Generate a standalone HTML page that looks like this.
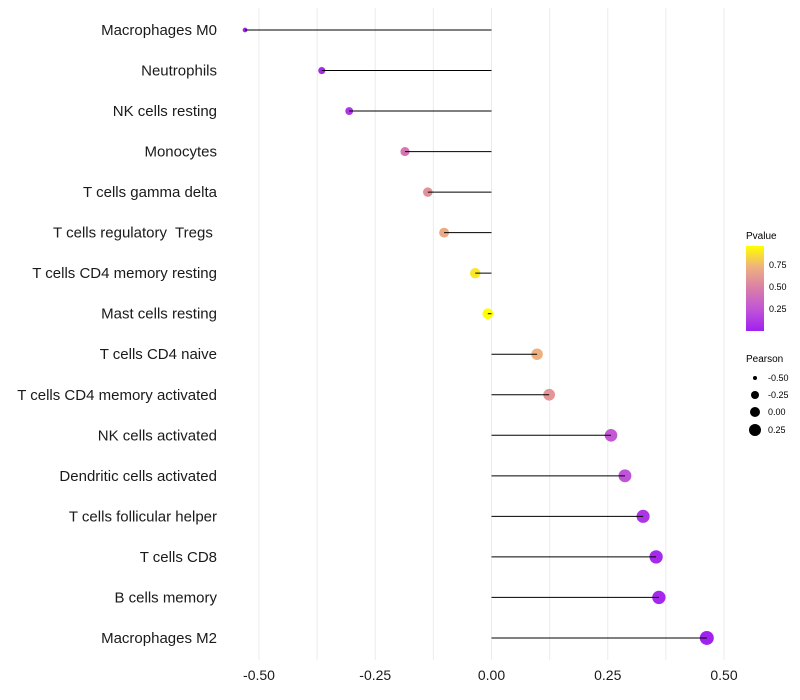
<!DOCTYPE html>
<html><head><meta charset="utf-8"><style>
body{margin:0;background:#fff;}
svg{display:block;font-family:"Liberation Sans",sans-serif;}
</style></head><body>
<svg id="chart" width="800" height="700">
<defs><linearGradient id="pg" x1="0" y1="1" x2="0" y2="0">
<stop offset="0" stop-color="#a020f0"/><stop offset="0.25" stop-color="#c054d8"/><stop offset="0.5" stop-color="#d87ea8"/><stop offset="0.75" stop-color="#eeb080"/><stop offset="1" stop-color="#ffff00"/>
</linearGradient></defs>
<g id="grid"></g>
<g id="marks"></g>
<g id="labels"></g>
<g font-size="10">
<text x="746" y="239">Pvalue</text>
<rect x="746" y="246" width="18" height="85" fill="url(#pg)"/>
<text x="769" y="268" font-size="9">0.75</text>
<text x="769" y="290" font-size="9">0.50</text>
<text x="769" y="312" font-size="9">0.25</text>
</g>
<g font-size="9">
<text x="746" y="362" font-size="10">Pearson</text>
<circle cx="755" cy="378" r="2" fill="#000"/><text x="768" y="381">-0.50</text>
<circle cx="755" cy="395" r="4" fill="#000"/><text x="768" y="398">-0.25</text>
<circle cx="755" cy="412" r="5" fill="#000"/><text x="768" y="415">0.00</text>
<circle cx="755" cy="430" r="6" fill="#000"/><text x="768" y="433">0.25</text>
</g>
</svg>
<script>
const categories=["Macrophages M0","Neutrophils","NK cells resting","Monocytes","T cells gamma delta","T cells regulatory  Tregs ","T cells CD4 memory resting","Mast cells resting","T cells CD4 naive","T cells CD4 memory activated","NK cells activated","Dendritic cells activated","T cells follicular helper","T cells CD8","B cells memory","Macrophages M2"];
const pearson=[-0.530,-0.365,-0.306,-0.186,-0.137,-0.102,-0.035,-0.008,0.098,0.124,0.257,0.287,0.326,0.354,0.360,0.463];
const pvalues=[0.0,0.05,0.1,0.45,0.6,0.72,0.9,0.97,0.75,0.62,0.28,0.25,0.1,0.05,0.04,0.01];
const xTicks=[-0.5,-0.25,0,0.25,0.5];
const xTickLabels=["-0.50","-0.25","0.00","0.25","0.50"];
const NS="http://www.w3.org/2000/svg";
const x=v=>491.5+v*465;
const y=i=>30+i*40.53;
const rad=v=>Math.sqrt(Math.max(2.5,28.8+43.7*v));
const stops=[[0,[160,32,240]],[0.25,[192,84,216]],[0.5,[216,126,168]],[0.75,[238,176,128]],[0.966,[255,255,0]]];
function col(p){p=Math.min(0.966,Math.max(0,p));for(let k=1;k<stops.length;k++){if(p<=stops[k][0]){const a=stops[k-1],b=stops[k],t=(p-a[0])/(b[0]-a[0]);return "rgb("+a[1].map((c,j)=>Math.round(c+(b[1][j]-c)*t)).join(",")+")";}}return "rgb(255,255,0)";}
function mk(t,a,parent){const e=document.createElementNS(NS,t);for(const k in a)e.setAttribute(k,a[k]);parent.appendChild(e);return e;}
const grid=document.getElementById('grid'),marks=document.getElementById('marks'),labels=document.getElementById('labels');
for(let v=-0.5;v<=0.5001;v+=0.125){const g=mk('line',{x1:x(v),x2:x(v),y1:8,y2:660,stroke:'#ebebeb','stroke-width':1},grid);

}
xTicks.forEach((v,i)=>{const t=mk('text',{x:x(v),y:680,'text-anchor':'middle','font-size':14,fill:'#1a1a1a'},labels);t.textContent=xTickLabels[i];

});
categories.forEach((c,i)=>{const t=mk('text',{x:217,y:y(i)+5,'text-anchor':'end','font-size':15,fill:'#1a1a1a'},labels);t.style.whiteSpace='pre';t.textContent=c;


const p=mk('circle',{cx:x(pearson[i]),cy:y(i),r:rad(pearson[i]),fill:col(pvalues[i])},marks);


const s=mk('line',{x1:x(0),x2:x(pearson[i]),y1:y(i),y2:y(i),stroke:'#000','stroke-width':1},marks);

});
</script>
</body></html>
